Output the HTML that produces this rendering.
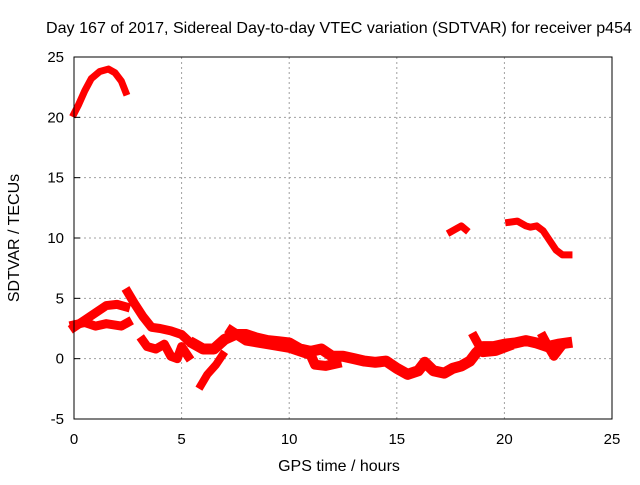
<!DOCTYPE html>
<html><head><meta charset="utf-8"><style>
html,body{margin:0;padding:0;background:#fff}
svg text{font-family:"Liberation Sans",sans-serif;font-size:15px;fill:#000}
svg text.big{font-size:16px}
</style></head><body>
<svg id="chart" width="640" height="480" viewBox="0 0 640 480" xmlns="http://www.w3.org/2000/svg">
<text class="big" x="339" y="33" text-anchor="middle" textLength="586" lengthAdjust="spacingAndGlyphs">Day 167 of 2017, Sidereal Day-to-day VTEC variation (SDTVAR) for receiver p454</text>
<g id="grid"></g>
<g id="series"></g>
<rect x="74" y="57" width="538" height="362" fill="none" stroke="#000" stroke-width="1"/>
<g id="ticks"></g>
<text class="big" x="339" y="471" text-anchor="middle">GPS time / hours</text>
<text class="big" transform="translate(19,238) rotate(-90)" text-anchor="middle">SDTVAR / TECUs</text>
</svg>
<script>
const xTicks=[0,5,10,15,20,25];
const yTicks=[-5,0,5,10,15,20,25];
const track1=[[0.0,20.3],[0.2,21.0],[0.5,22.2],[0.8,23.2],[1.2,23.8],[1.6,24.0],[1.9,23.7],[2.2,23.0],[2.4,22.1]];
const track2=[[17.5,10.5],[17.8,10.8],[18.0,11.0],[18.2,10.7]];
const track3=[[20.2,11.3],[20.6,11.4],[21.0,11.0],[21.2,10.9],[21.5,11.0],[21.8,10.6],[22.1,9.8],[22.4,9.0],[22.7,8.6],[23.0,8.6]];
const track4=[[0.0,2.6],[0.5,3.2],[1.0,3.8],[1.5,4.4],[2.0,4.5],[2.4,4.3]];
const track5=[[0.0,2.8],[0.5,3.0],[1.0,2.7],[1.5,2.9],[2.2,2.7],[2.5,3.0]];
const track6=[[2.5,5.5],[2.8,4.6],[3.2,3.5],[3.6,2.6],[4.0,2.5],[4.5,2.3],[5.0,2.0],[5.3,1.5]];
const track7=[[3.2,1.5],[3.4,1.0],[3.8,0.8],[4.2,1.2],[4.5,0.2],[4.8,0.0],[5.0,1.0],[5.3,0.2]];
const track8=[[5.9,-2.2],[6.2,-1.3],[6.6,-0.5],[6.9,0.3]];
const track9=[[5.6,1.2],[6.0,0.8],[6.5,0.8],[7.0,1.6],[7.5,2.0],[8.0,2.0],[8.5,1.7],[9.0,1.5],[9.5,1.4],[10.0,1.3],[10.5,0.8],[11.0,0.6],[11.5,0.8],[12.0,0.2],[12.5,0.2],[13.0,0.0],[13.5,-0.2],[14.0,-0.3],[14.5,-0.2],[15.0,-0.8],[15.5,-1.3],[16.0,-1.0],[16.3,-0.3],[16.7,-1.0],[17.2,-1.2],[17.6,-0.8],[18.0,-0.6],[18.4,-0.2],[18.7,0.5],[19.0,1.0],[19.5,1.0],[20.0,1.2],[20.5,1.3],[21.0,1.5],[21.5,1.3],[22.0,1.0],[22.5,1.2],[22.9,1.3]];
const track10=[[7.3,2.3],[8.0,1.5],[9.0,1.2],[10.0,0.9],[11.0,0.3],[11.2,-0.5],[11.7,-0.6],[12.2,-0.4]];
const track11=[[18.6,1.8],[19.0,0.5],[19.6,0.6],[20.2,1.0]];
const track12=[[21.8,1.8],[22.1,0.8],[22.3,0.2],[22.6,0.9]];
const tracks=[track1,track2,track3,track4,track5,track6,track7,track8,track9,track10,track11,track12];
const widths=[7,7,7,9,9,9,9,8,11,10,9,9];

const X0=74,X1=612,Y0=419,Y1=57;
function sx(v){return X0+(v-0)/(25-0)*(X1-X0);}
function sy(v){return Y0-(v+5)/(30)*(Y0-Y1);}
const NS='http://www.w3.org/2000/svg';
const grid=document.getElementById('grid'),ticks=document.getElementById('ticks'),ser=document.getElementById('series');
function mk(t,a){const e=document.createElementNS(NS,t);for(const k in a)e.setAttribute(k,a[k]);return e;}
xTicks.forEach(v=>{
  if(v>0&&v<25){const g=mk('line',{x1:sx(v),x2:sx(v),y1:Y1,y2:Y0,stroke:'#a0a0a0','stroke-dasharray':'2,3'});
  
  
  grid.appendChild(g);}
  const t=mk('text',{x:sx(v),y:444,'text-anchor':'middle'});t.textContent=v;
  
  
  ticks.appendChild(t);
});
yTicks.forEach(v=>{
  if(v>-5&&v<25){const g=mk('line',{x1:X0,x2:X1,y1:sy(v),y2:sy(v),stroke:'#a0a0a0','stroke-dasharray':'2,3'});
  
  
  grid.appendChild(g);
  const tk=mk('line',{x1:X0,x2:X0+6,y1:sy(v),y2:sy(v),stroke:'#000'});
  
  
  ticks.appendChild(tk);}
  const t=mk('text',{x:64,y:sy(v)+5,'text-anchor':'end'});t.textContent=v;
  
  
  ticks.appendChild(t);
});
tracks.forEach((tr,i)=>{
  const p=mk('polyline',{points:tr.map(d=>sx(d[0])+','+sy(d[1])).join(' '),fill:'none',stroke:'#ff0000','stroke-width':widths[i],'stroke-linejoin':'round','stroke-linecap':'square'});
  
  
  ser.appendChild(p);
});
</script>
</body></html>
